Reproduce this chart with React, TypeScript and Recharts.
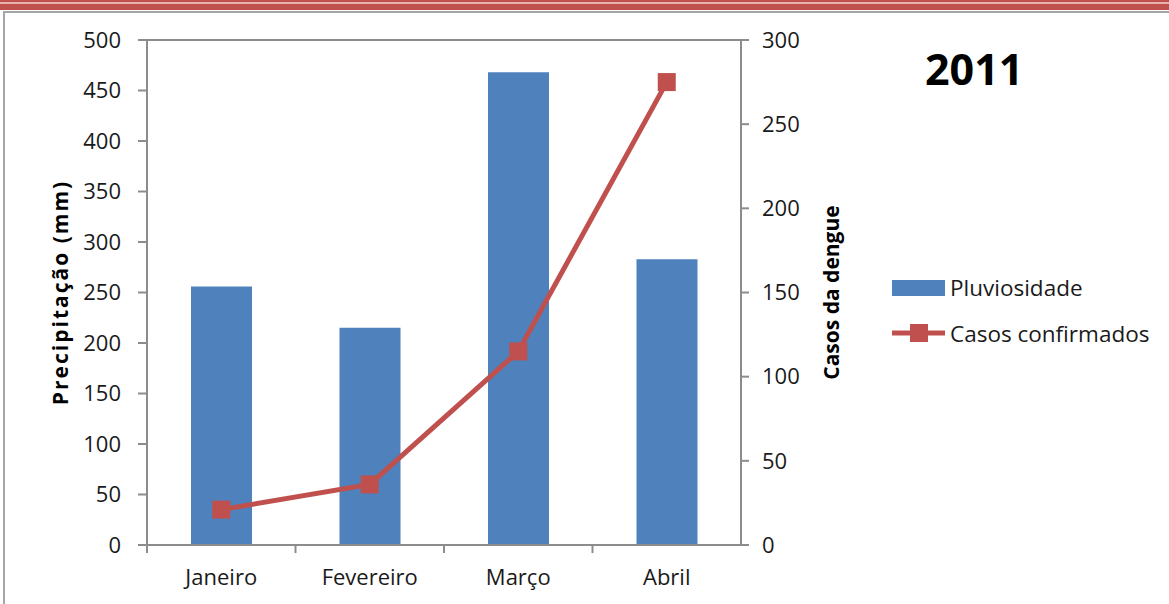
import React from "react";
import {
  ComposedChart,
  Bar,
  Line,
  XAxis,
  YAxis,
  CartesianGrid,
} from "recharts";

// Monthly rainfall (mm) and confirmed dengue cases, 2011
const months = ["Janeiro", "Fevereiro", "Março", "Abril"];
const rainfall = [256, 215, 468, 283];
const dengueCases = [21, 36, 115, 275];
const rainTicks = [0, 50, 100, 150, 200, 250, 300, 350, 400, 450, 500];
const caseTicks = [0, 50, 100, 150, 200, 250, 300];

const data = months.map((m, i) => ({
  month: m,
  rain: rainfall[i],
  cases: dengueCases[i],
}));

const W = 1169;
const H = 604;
const FONT = "'Open Sans', sans-serif";
const AXIS_GREY = "#8c8c8c";
const BAR_BLUE = "#4F81BD";
const LINE_RED = "#C0504D";
const TEXT = "#1a1a1a";
const TICK_SIZE = 22;

const LEFT_AXIS_W = 80;
const RIGHT_AXIS_W = 80;
const X_AXIS_H = 45;
const margin = { top: 40, right: 348, left: 67, bottom: 14 };
const plotWidth = W - margin.left - margin.right - LEFT_AXIS_W - RIGHT_AXIS_W;
const bandWidth = plotWidth / months.length;

// Category label with a tick mark at the band's left boundary
const MonthTick = (props: any) => {
  const { x, y, payload } = props;
  const bx = x - bandWidth / 2;
  return (
    <g>
      <line x1={bx} y1={y - 8} x2={bx} y2={y} stroke={AXIS_GREY} strokeWidth={2} />
      <text
        x={x}
        y={y + 32}
        textAnchor="middle"
        fontFamily={FONT}
        fontSize={TICK_SIZE}
        fill={TEXT}
      >
        {payload.value}
      </text>
    </g>
  );
};

const SquareDot = (props: any) => {
  const { cx, cy } = props;
  if (cx == null || cy == null) return null;
  return <rect x={cx - 9} y={cy - 9} width={18} height={18} fill={LINE_RED} />;
};

const SeriesKey = () => (
  <div
    style={{
      position: "absolute",
      left: 892,
      top: 272,
      fontFamily: FONT,
      fontSize: 22.5,
      color: TEXT,
    }}
  >
    <div style={{ display: "flex", alignItems: "center", height: 30 }}>
      <svg width={58} height={20}>
        <rect x={0} y={3} width={53} height={16} fill={BAR_BLUE} />
      </svg>
      <span>Pluviosidade</span>
    </div>
    <div style={{ display: "flex", alignItems: "center", height: 30, marginTop: 16 }}>
      <svg width={58} height={20}>
        <line x1={0} y1={10} x2={53} y2={10} stroke={LINE_RED} strokeWidth={5} />
        <rect x={18} y={1} width={18} height={18} fill={LINE_RED} />
      </svg>
      <span>Casos confirmados</span>
    </div>
  </div>
);

export default function App() {
  return (
    <div
      style={{
        position: "absolute",
        left: 0,
        top: 0,
        width: W,
        height: H,
        background: "#ffffff",
        overflow: "hidden",
      }}
    >
      {/* slide frame */}
      <div style={{ position: "absolute", left: 0, top: 0, width: W, height: 10, background: LINE_RED }} />
      <div style={{ position: "absolute", left: 0, top: 2, width: W, height: 2, background: "#eab0ae" }} />
      <div
        style={{
          position: "absolute",
          left: 3,
          top: 11,
          width: W,
          height: H,
          borderLeft: "2px solid #a6a6a6",
          borderTop: "2px solid #a6a6a6",
        }}
      />
      <div
        style={{
          position: "absolute",
          left: 925,
          top: 41,
          fontFamily: FONT,
          fontWeight: "bold",
          fontSize: 43,
          lineHeight: "56px",
          color: "#000",
        }}
      >
        2011
      </div>
      <ComposedChart
        width={W}
        height={H}
        data={data}
        margin={margin}
        barCategoryGap={44}
        style={{ position: "absolute", left: 0, top: 0 }}
      >
        <CartesianGrid vertical={false} stroke={AXIS_GREY} strokeWidth={2} />
        <XAxis
          dataKey="month"
          height={X_AXIS_H}
          tickLine={false}
          axisLine={{ stroke: AXIS_GREY, strokeWidth: 2 }}
          tick={<MonthTick />}
          interval={0}
        />
        <YAxis
          yAxisId="rain"
          orientation="left"
          width={LEFT_AXIS_W}
          domain={[0, 500]}
          ticks={rainTicks}
          interval={0}
          axisLine={{ stroke: AXIS_GREY, strokeWidth: 2 }}
          tickLine={{ stroke: AXIS_GREY, strokeWidth: 2 }}
          tickSize={9}
          tickMargin={17}
          tick={{ fontFamily: FONT, fontSize: TICK_SIZE, fill: TEXT }}
          label={{
            value: "Precipitação (mm)",
            angle: -90,
            position: "insideLeft",
            offset: -6,
            style: {
              fontFamily: FONT,
              fontSize: 21,
              letterSpacing: 2,
              fontWeight: "bold",
              fill: "#000",
              textAnchor: "middle",
            },
          }}
        />
        <YAxis
          yAxisId="cases"
          orientation="right"
          width={RIGHT_AXIS_W}
          domain={[0, 300]}
          ticks={caseTicks}
          interval={0}
          axisLine={{ stroke: AXIS_GREY, strokeWidth: 2 }}
          tickLine={{ stroke: AXIS_GREY, strokeWidth: 2 }}
          tickSize={8}
          tickMargin={13}
          tick={{ fontFamily: FONT, fontSize: TICK_SIZE, fill: TEXT, textAnchor: "start" }}
          label={{
            value: "Casos da dengue",
            angle: -90,
            position: "insideRight",
            offset: -11,
            style: {
              fontFamily: FONT,
              fontSize: 21,
              fontWeight: "bold",
              fill: "#000",
              textAnchor: "middle",
            },
          }}
        />
        <Bar yAxisId="rain" dataKey="rain" name="Pluviosidade" fill={BAR_BLUE} isAnimationActive={false} />
        <Line
          yAxisId="cases"
          dataKey="cases"
          name="Casos confirmados"
          stroke={LINE_RED}
          strokeWidth={5}
          dot={<SquareDot />}
          activeDot={false}
          isAnimationActive={false}
        />
      </ComposedChart>
      <SeriesKey />
    </div>
  );
}
